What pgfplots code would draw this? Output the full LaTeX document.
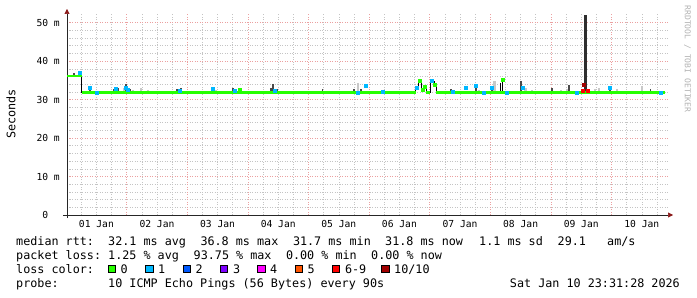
\documentclass[border=0pt]{standalone}
\usepackage{fontspec}
\setmainfont{DejaVu Sans Mono}
\setmonofont{DejaVu Sans Mono}
\usepackage{pgfplots}
\pgfplotsset{compat=1.18}
\usetikzlibrary{arrows.meta}

\definecolor{lc0}{HTML}{26FF00}
\definecolor{lc1}{HTML}{00B8FF}
\definecolor{lc2}{HTML}{0059FF}
\definecolor{lc3}{HTML}{7E00FF}
\definecolor{lc4}{HTML}{FF00FF}
\definecolor{lc5}{HTML}{FF5500}
\definecolor{lc6}{HTML}{FF0000}
\definecolor{lc10}{HTML}{A10000}
\definecolor{mgrid}{HTML}{EBA0A0}
\definecolor{gridc}{HTML}{C4C4C4}
\definecolor{arrowc}{HTML}{8B1A1A}
\definecolor{smokeL}{HTML}{C8C8C8}
\definecolor{smokeD}{HTML}{4A4A4A}

\newcommand\legfont{\fontsize{11.8}{14}\selectfont}

\begin{document}
\begin{tikzpicture}[x=1bp,y=1bp]
\begin{scope}[shift={(-67,-82)}]
\path[use as bounding box] (0,0) rectangle (697,297);
% y label and watermark
\node[rotate=90, font=\legfont] at (11,183) {Seconds};
\node[rotate=-90, font=\fontsize{8.1}{9}\selectfont, text=black!30] at (687.5,238) {RRDTOOL / TOBI OETIKER};
\begin{scope}[every node/.style={anchor=base west, inner sep=0pt, font=\legfont}]
% line 1
\node at (16,52) {median rtt:};
\node at (108,52) {32.1 ms avg};
\node at (200.3,52) {36.8 ms max};
\node at (292.8,52) {31.7 ms min};
\node at (385,52) {31.8 ms now};
\node at (479,52) {1.1 ms sd};
\node at (557.5,52) {29.1};
\node at (607,52) {am/s};
% line 2
\node at (16,38) {packet loss:};
\node at (108,38) {1.25 \% avg};
\node at (193.5,38) {93.75 \% max};
\node at (285.8,38) {0.00 \% min};
\node at (371,38) {0.00 \% now};
% line 3
\node at (16,24) {loss color:};
\node at (120.5,24) {0};
\node at (158,24) {1};
\node at (195.5,24) {2};
\node at (232.8,24) {3};
\node at (270,24) {4};
\node at (307.5,24) {5};
\node at (344.8,24) {6-9};
\node at (394,24) {10/10};
% line 4
\node at (16,10) {probe:};
\node at (108,10) {10 ICMP Echo Pings (56 Bytes) every 90s};
\node[anchor=base east] at (680,10) {Sat Jan 10 23:31:28 2026};
\end{scope}
\foreach \xx/\cc in {108.3/lc0,145.7/lc1,183/lc2,220.3/lc3,257.7/lc4,295/lc5,332.3/lc6,381.7/lc10}{
  \filldraw[fill=\cc, draw=black, line width=0.7bp] (\xx,24.5) rectangle ++(7.2,7.2);
}
\end{scope}
\begin{axis}[
  name=ax, at={(0,0)}, anchor=south west, scale only axis,
  width=601bp, height=201bp,
  xmin=0.015, xmax=9.932, ymin=0, ymax=52.26,
  axis lines=left,
  axis line style={black!85, line width=0.6bp},
  x axis line style={-{Triangle[length=5bp,width=5bp,color=arrowc]}, shorten >=-5bp, shorten <=-4bp},
  y axis line style={-{Triangle[length=5bp,width=5bp,color=arrowc]}, shorten >=-5bp, shorten <=-3bp},
  xtick={0.5,1.5,...,9.5},
  xticklabels={01 Jan,02 Jan,03 Jan,04 Jan,05 Jan,06 Jan,07 Jan,08 Jan,09 Jan,10 Jan},
  extra x ticks={1,2,3,4,5,6,7,8,9},
  extra x tick labels={},
  extra x tick style={xmajorgrids=true},
  xmajorgrids=false, xminorgrids=true,
  minor xtick={0.25,0.5,0.75,1.25,1.5,1.75,2.25,2.5,2.75,3.25,3.5,3.75,4.25,4.5,4.75,5.25,5.5,5.75,6.25,6.5,6.75,7.25,7.5,7.75,8.25,8.5,8.75,9.25,9.5,9.75},
  ytick={0,10,20,30,40,50},
  yticklabels={0\phantom{~m},10 m,20 m,30 m,40 m,50 m},
  minor y tick num=4,
  ymajorgrids=true, yminorgrids=true,
  major tick length=0, minor tick length=0,
  major grid style={mgrid, line width=0.6bp, dash pattern=on 1bp off 1.5bp},
  minor grid style={gridc, line width=0.6bp, dash pattern=on 1bp off 1.5bp},
  tick label style={font=\fontsize{9.7}{10}\selectfont, inner sep=0pt},
  yticklabel style={anchor=east, xshift=-7bp},
  xticklabel style={anchor=north, yshift=-5bp},
  unbounded coords=jump,
  clip=false,
]
% light smoke
\addplot[smokeL, line width=2.2bp] coordinates {
(0.95,31.8)(0.95,33.0)(0.95,nan)
(1.10,31.8)(1.10,32.5)(1.10,nan)
(1.24,31.8)(1.24,33.0)(1.24,nan)
(1.35,31.8)(1.35,32.5)(1.35,nan)
(1.55,31.8)(1.55,32.3)(1.55,nan)
(2.47,31.8)(2.47,32.5)(2.47,nan)
(2.60,31.8)(2.60,32.3)(2.60,nan)
(3.25,31.8)(3.25,32.3)(3.25,nan)
(3.55,31.8)(3.55,32.3)(3.55,nan)
(3.61,31.8)(3.61,32.3)(3.61,nan)
(3.79,31.8)(3.79,32.3)(3.79,nan)
(3.90,31.8)(3.90,32.3)(3.90,nan)
(3.99,31.8)(3.99,32.3)(3.99,nan)
(4.19,31.8)(4.19,32.3)(4.19,nan)
(4.35,31.8)(4.35,32.3)(4.35,nan)
(4.45,31.8)(4.45,32.3)(4.45,nan)
(4.81,31.8)(4.81,34.3)(4.81,nan)
(5.49,31.8)(5.49,32.3)(5.49,nan)
(5.59,31.8)(5.59,32.3)(5.59,nan)
(6.43,31.8)(6.43,32.3)(6.43,nan)
(6.50,31.8)(6.50,32.3)(6.50,nan)
(6.81,31.8)(6.81,32.5)(6.81,nan)
(7.07,31.8)(7.07,34.8)(7.07,nan)
(7.58,31.8)(7.58,33.0)(7.58,nan)
(7.69,31.8)(7.69,32.5)(7.69,nan)
(8.17,31.8)(8.17,32.5)(8.17,nan)
(8.27,31.8)(8.27,32.8)(8.27,nan)
(8.73,31.8)(8.73,32.8)(8.73,nan)
(8.79,31.8)(8.79,33.0)(8.79,nan)
(9.09,31.8)(9.09,32.8)(9.09,nan)
(9.50,31.8)(9.50,33.5)(9.50,nan)
(9.75,31.8)(9.75,32.3)
};
% dark smoke
\addplot[smokeD, line width=1.6bp] coordinates {
(0.13,36.1)(0.13,36.9)(0.13,nan)
(0.39,31.8)(0.39,33.0)(0.39,nan)
(0.79,31.8)(0.79,32.8)(0.79,nan)
(0.86,31.8)(0.86,33.0)(0.86,nan)
(0.99,31.8)(0.99,34.1)(0.99,nan)
(1.05,31.8)(1.05,32.8)(1.05,nan)
(1.83,31.8)(1.83,32.8)(1.83,nan)
(1.87,31.8)(1.87,32.8)(1.87,nan)
(1.90,31.8)(1.90,33.0)(1.90,nan)
(2.42,31.8)(2.42,32.8)(2.42,nan)
(2.75,31.8)(2.75,33.0)(2.75,nan)
(3.38,31.8)(3.38,33.0)(3.38,nan)
(3.41,31.8)(3.41,34.1)(3.41,nan)
(3.48,31.8)(3.48,32.8)(3.48,nan)
(4.23,31.8)(4.23,32.8)(4.23,nan)
(4.75,31.8)(4.75,32.8)(4.75,nan)
(4.87,31.8)(4.87,32.8)(4.87,nan)
(6.35,31.8)(6.35,32.8)(6.35,nan)
(6.76,31.8)(6.76,33.5)(6.76,nan)
(7.03,31.8)(7.03,33.0)(7.03,nan)
(7.51,31.8)(7.51,34.8)(7.51,nan)
(8.02,31.8)(8.02,33.0)(8.02,nan)
(8.30,31.8)(8.30,33.8)(8.30,nan)
(8.97,31.8)(8.97,32.8)(8.97,nan)
(9.64,31.8)(9.64,32.8)
};
% big spike
\addplot[black!82, line width=3.4bp] coordinates {(8.57,31.8)(8.57,52.0)};
% median verticals (thin black)
\addplot[black, line width=0.8bp] coordinates {
(0.26,36.1)(0.26,31.8)(0.26,nan)
(5.77,31.8)(5.77,33.0)(5.81,33.0)(5.81,34.8)(5.86,34.8)(5.86,32.5)(5.90,32.5)(5.90,33.3)(5.94,33.3)(5.94,31.8)(5.94,nan)
(6.01,31.8)(6.01,34.8)(6.07,34.8)(6.07,34.0)(6.11,34.0)(6.11,31.8)(6.11,nan)
(7.16,31.8)(7.16,34.3)(7.16,nan)
(7.20,31.8)(7.20,35.1)
};
% median, loss 0
\addplot[lc0, line width=2.6bp] coordinates {
(0.015,36.1)(0.26,36.1)(0.26,nan)
(0.26,31.8)(5.77,31.8)(5.77,nan)
(5.94,31.8)(6.01,31.8)(6.01,nan)
(6.11,31.8)(9.89,31.8)
};
\addplot[lc0, only marks, mark=square*, mark size=1.5bp] coordinates {
(5.83,34.8)(5.88,32.5)(5.92,33.3)(6.09,34.0)(7.20,35.1)(2.87,32.5)
};
% loss 1
\addplot[lc1, only marks, mark=square*, mark size=1.5bp] coordinates {
(0.22,36.9)(0.39,33.0)(0.51,31.8)(0.82,32.8)(0.99,33.0)(1.02,32.5)(1.87,32.3)(2.42,32.8)(2.79,32.3)(3.45,32.3)(4.81,31.8)(4.95,33.5)(5.23,32.0)(5.79,33.0)(6.04,34.8)(6.38,32.0)(6.59,33.0)(6.76,33.5)(6.89,31.8)(7.03,33.0)(7.27,31.8)(7.54,33.0)(8.43,31.8)(8.97,33.0)(9.81,31.8)
};
% loss 6-9 and 10
\addplot[lc6, only marks, mark=square*, mark size=1.6bp] coordinates {
(8.52,32.4)(8.61,32.4)
};
\addplot[lc10, only marks, mark=square*, mark size=1.3bp] coordinates {
(8.54,33.8)
};
\end{axis}
\end{tikzpicture}
\end{document}
